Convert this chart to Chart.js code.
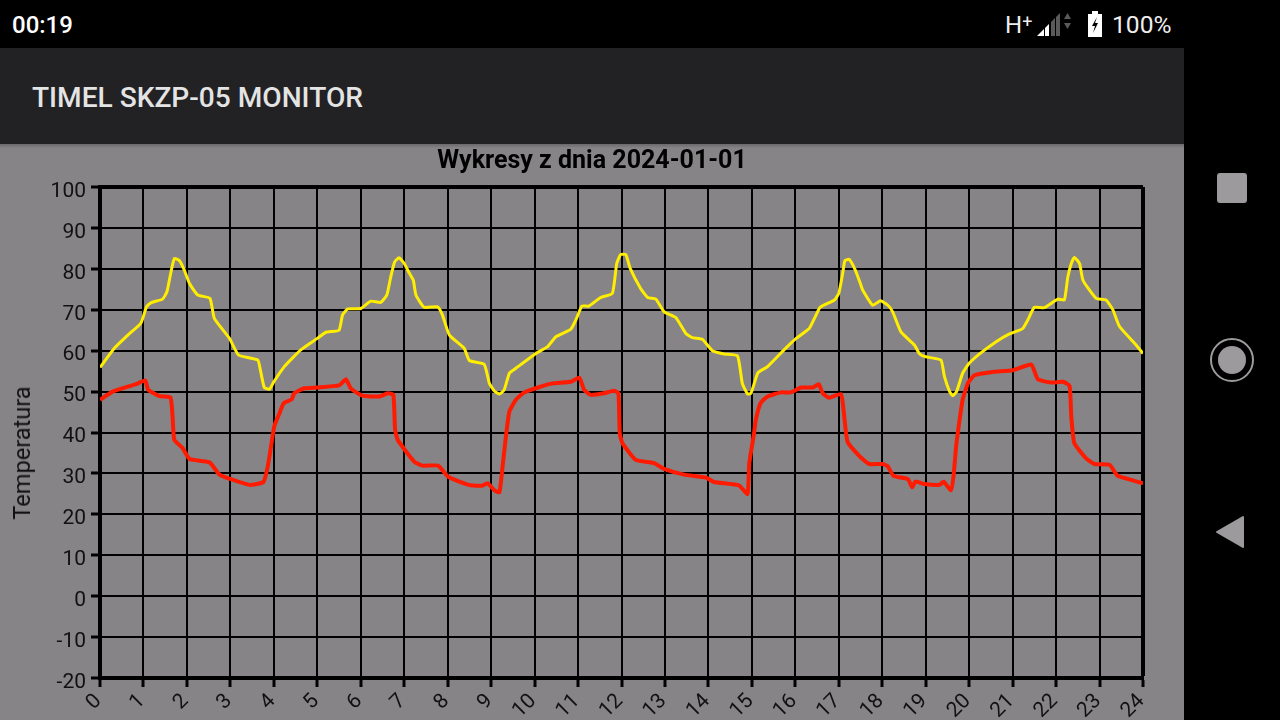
<!DOCTYPE html>
<html lang="pl">
<head>
<meta charset="utf-8">
<title>TIMEL SKZP-05 MONITOR</title>
<script src="https://cdn.jsdelivr.net/npm/chart.js@4"></script>
<style>
    html, body { margin: 0; padding: 0; width: 1280px; height: 720px; overflow: hidden; background: #000; font-family: Roboto, sans-serif; }
    .abs { position: absolute; white-space: nowrap; }
    #content { position: absolute; left: 0; top: 144px; width: 1184px; height: 576px; background: #868487; }
    #shadow { position: absolute; left: 0; top: 144px; width: 1184px; height: 4px; background: linear-gradient(#6a696b, #868487); }
    #appbar { position: absolute; left: 0; top: 48px; width: 1184px; height: 96px; background: #222124; }
    #chart { position: absolute; left: 0; top: 144px; }
    #ylabel { left: 22px; top: 453px; font-size: 23.6px; color: #111; transform: translate(-50%, -50%) rotate(-90deg); }
    svg { position: absolute; left: 0; top: 0; }
</style>
</head>
<body>
<div id="appbar"></div>
<div id="content"></div>
<div id="shadow"></div>
<div class="abs" style="left:12px; top:10px; font-size:24px; line-height:30px; color:#fff; font-weight:500;">00:19</div>
<div class="abs" style="left:1005px; top:10px; font-size:24px; line-height:30px; color:#eee;">H<span style="font-size:18px; position:relative; top:-5px;">+</span></div>
<div class="abs" style="left:1112px; top:10px; font-size:24.6px; line-height:30px; color:#eee;">100%</div>
<div class="abs" style="left:32px; top:81px; font-size:28.1px; line-height:34px; color:#e4e4e4; font-weight:500;">TIMEL SKZP-05 MONITOR</div>
<svg width="1280" height="720">
    <!-- signal bars -->
    <polygon points="1037,36 1044,29 1044,36" fill="#fff"/>
    <polygon points="1045,28 1049,24 1049,36 1045,36" fill="#fff"/>
    <polygon points="1051,22 1055,18 1055,36 1051,36" fill="#5a5a5a"/>
    <polygon points="1056,17 1060,13 1060,36 1056,36" fill="#5a5a5a"/>
    <polygon points="1067.5,13 1071,19 1064,19" fill="#5a5a5a"/>
    <polygon points="1067.5,29 1071,23 1064,23" fill="#5a5a5a"/>
    <!-- battery -->
    <path d="M1092,11 h6 v3 h4 v23 h-14 v-23 h4 z" fill="#fff"/>
    <polygon points="1097,17 1092,26 1095,26 1093,33 1098,23 1095,23" fill="#000"/>
    <!-- navigation -->
    <rect x="1217" y="173" width="30" height="30" rx="3" fill="#9c9a9d"/>
    <circle cx="1232" cy="360" r="21" fill="none" stroke="#9c9a9d" stroke-width="2"/>
    <circle cx="1232" cy="360" r="14" fill="#9c9a9d"/>
    <polygon points="1217,532 1243,517 1243,547" fill="#9c9a9d" stroke="#9c9a9d" stroke-width="2" stroke-linejoin="round"/>
</svg>
<canvas id="chart" width="1184" height="576"></canvas>
<div id="ylabel" class="abs">Temperatura</div>

<script>
// Tick labels
const hourTicks = [0, 1, 2, 3, 4, 5, 6, 7, 8, 9, 10, 11, 12, 13, 14, 15, 16, 17, 18, 19, 20, 21, 22, 23, 24];
const tempTicks = [-20, -10, 0, 10, 20, 30, 40, 50, 60, 70, 80, 90, 100];

// Yellow series
const yellowHours = [
    0, 0.33, 0.64, 0.94, 1.07, 1.17, 1.44, 1.54, 1.61, 1.71, 1.83, 1.94, 2.06, 2.25, 2.53, 2.63, 2.98, 3.19, 3.63, 3.69, 3.78, 3.9,
    4.0, 4.24, 4.62, 5.0, 5.2, 5.5, 5.58, 5.7, 6.0, 6.23, 6.46, 6.6, 6.69, 6.78, 6.88, 7.0, 7.12, 7.21, 7.27, 7.46, 7.77, 7.88,
    8.04, 8.38, 8.5, 8.84, 8.96, 9.07, 9.19, 9.3, 9.42, 9.57, 10.03, 10.3, 10.49, 10.83, 10.95, 11.09, 11.25, 11.52, 11.79, 11.89, 11.98,
    12.1, 12.2, 12.44, 12.6, 12.79, 12.98, 13.25, 13.48, 13.63, 13.86, 14.09, 14.36, 14.67, 14.78, 14.9, 14.98, 15.14, 15.36, 15.74,
    16.02, 16.32, 16.44, 16.57, 16.9, 17.0, 17.09, 17.14, 17.24, 17.38, 17.51, 17.55, 17.78, 17.96, 18.13, 18.24, 18.43, 18.74, 18.86,
    19.0, 19.35, 19.43, 19.55, 19.62, 19.71, 19.85, 20.0, 20.24, 20.62, 20.93, 21.23, 21.35, 21.5, 21.73, 22.04, 22.19, 22.27, 22.35,
    22.42, 22.54, 22.62, 22.92, 23.15, 23.31, 23.46, 23.84, 24
];
const yellowTemps = [
    55.9, 60.6, 63.8, 66.7, 70.7, 71.7, 72.6, 74.4, 78, 82.5, 82, 79.7, 76.4, 73.6, 72.8, 67.9, 63, 58.9, 57.7, 55.3, 51, 50.6,
    52.4, 56.1, 60.2, 63, 64.5, 65, 68.7, 70.2, 70.3, 72.1, 71.8, 73.6, 78, 81.7, 82.7, 81.3, 78.9, 77.2, 73.6, 70.6, 70.7, 68.7,
    63.8, 60.6, 57.6, 56.7, 52, 50.2, 49.4, 50.4, 54.5, 55.7, 59.3, 61, 63.4, 65.2, 67.5, 70.9, 70.9, 73, 74, 81.3, 83.5,
    83.5, 80.1, 75.2, 73, 72.6, 69.5, 68.1, 64.2, 63.2, 62.8, 60, 59.2, 58.7, 52, 49.4, 49.6, 54.6, 56.1, 60.2,
    63, 65.4, 67.9, 70.6, 72.4, 74, 78.9, 82, 82.3, 79.7, 76, 74.8, 71.1, 72.2, 71.1, 69.5, 64.6, 61.4, 59.2,
    58.5, 57.7, 53.7, 50, 49, 50, 54.5, 56.9, 59.2, 62.2, 64.1, 65.4, 67.5, 70.6, 70.5, 72.6, 72.4, 78, 81.3,
    82.8, 81.3, 77.2, 72.8, 72.4, 69.9, 65.9, 61.4, 59.3
];

// Red series
const redHours = [
    0, 0.29, 0.64, 0.83, 1.04, 1.11, 1.37, 1.62, 1.67, 1.71, 1.9, 2.06, 2.52, 2.75, 2.98, 3.44, 3.76, 3.86, 3.93, 4.01, 4.13, 4.23,
    4.41, 4.47, 4.7, 5.0, 5.5, 5.66, 5.77, 6.04, 6.43, 6.62, 6.75, 6.79, 6.85, 7.23, 7.42, 7.78, 8.0, 8.27, 8.53, 8.8, 8.92, 9.07,
    9.19, 9.26, 9.34, 9.42, 9.57, 9.76, 10.14, 10.41, 10.83, 11.03, 11.14, 11.29, 11.6, 11.83, 11.93, 11.96, 12.02, 12.33, 12.75, 12.98,
    13.44, 13.94, 14.13, 14.7, 14.9, 14.94, 15.05, 15.09, 15.2, 15.36, 15.67, 15.9, 16.13, 16.4, 16.54, 16.63, 16.78, 17.05, 17.11, 17.2,
    17.47, 17.7, 18.01, 18.13, 18.26, 18.59, 18.69, 18.76, 18.97, 19.32, 19.41, 19.58, 19.64, 19.7, 19.78, 19.85, 19.97, 20.12, 20.54,
    21.0, 21.43, 21.58, 21.89, 22.16, 22.31, 22.35, 22.42, 22.69, 22.88, 23.23, 23.42, 24
];
const redTemps = [
    48, 50, 51.2, 51.8, 52.7, 50.4, 48.9, 48.6, 43.9, 38.2, 36.2, 33.5, 32.7, 29.7, 28.7, 27.2, 27.9, 31.7, 36.2, 41.5, 44.7, 47.2,
    48.1, 49.6, 50.8, 51, 51.5, 53, 50.8, 49, 48.8, 49.6, 49.2, 40.7, 38.2, 32.9, 31.9, 31.9, 29.3, 28, 27.1, 27, 27.6, 25.9,
    25.4, 31.3, 39, 45.1, 48, 49.8, 51.2, 52, 52.4, 53.4, 50.4, 49.2, 49.6, 50.2, 49.6, 39.8, 37.4, 33.3, 32.5, 31.1,
    29.7, 29, 27.9, 27.1, 25, 32.5, 39.8, 43.1, 47.2, 48.8, 49.8, 49.8, 51, 51, 51.8, 49.6, 48.5, 49.4, 45.5, 37.8,
    34.3, 32.3, 32.3, 31.7, 29.4, 28.6, 26.6, 28, 27.4, 27.2, 28, 25.9, 29.3, 36.6, 43.1, 48, 52, 54, 54.8,
    55.2, 56.6, 53, 52.2, 52.4, 51.4, 43.9, 37.4, 33.7, 32.3, 32.1, 29.4, 27.6
];

const toPoints = (hours, temps) => hours.map((h, i) => ({ x: h, y: temps[i] }));

new Chart(document.getElementById('chart'), {
    type: 'line',
    data: {
        datasets: [
            { data: toPoints(yellowHours, yellowTemps), borderColor: '#ffee00', borderWidth: 3 },
            { data: toPoints(redHours, redTemps), borderColor: '#ff1a00', borderWidth: 4 }
        ]
    },
    options: {
        responsive: false,
        animation: false,
        elements: { point: { radius: 0 }, line: { tension: 0.15, borderJoinStyle: 'round' } },
        plugins: {
            legend: { display: false },
            tooltip: { enabled: false },
            title: {
                display: true,
                text: 'Wykresy z dnia 2024-01-01',
                color: '#000',
                font: { family: 'Roboto', size: 25, weight: 'bold' },
                padding: { top: 3, bottom: 10 }
            }
        },
        scales: {
            x: {
                type: 'linear',
                min: 0,
                max: 24,
                afterBuildTicks: axis => { axis.ticks = hourTicks.map(value => ({ value })); },
                afterFit: axis => { axis.height = 42; },
                border: { color: '#000', width: 4 },
                grid: {
                    color: '#000',
                    tickColor: '#000',
                    tickLength: 9,
                    tickWidth: 3,
                    lineWidth: c => (c.tick && c.tick.value === 24 ? 4 : 2)
                },
                ticks: {
                    color: '#111',
                    font: { family: 'Roboto', size: 21 },
                    autoSkip: false,
                    minRotation: 45,
                    maxRotation: 45,
                    padding: 2,
                    labelOffset: -1.5
                }
            },
            y: {
                min: -20,
                max: 100,
                afterBuildTicks: axis => { axis.ticks = tempTicks.map(value => ({ value })); },
                afterFit: axis => { axis.width = 100; },
                border: { color: '#000', width: 4 },
                grid: {
                    color: '#000',
                    tickColor: '#000',
                    tickLength: 9,
                    tickWidth: 3,
                    lineWidth: c => (c.tick && c.tick.value === 100 ? 4 : 2)
                },
                ticks: {
                    color: '#111',
                    font: { family: 'Roboto', size: 21 },
                    padding: 5,
                    labelOffset: 4.5
                }
            },
            // empty axis that keeps the grey margin right of the plot, title stays centred on the whole canvas
            margin: {
                type: 'linear',
                position: 'right',
                grid: { display: false },
                border: { display: false },
                ticks: { display: false },
                afterFit: axis => { axis.width = 41; }
            }
        }
    }
});
</script>
</body>
</html>
